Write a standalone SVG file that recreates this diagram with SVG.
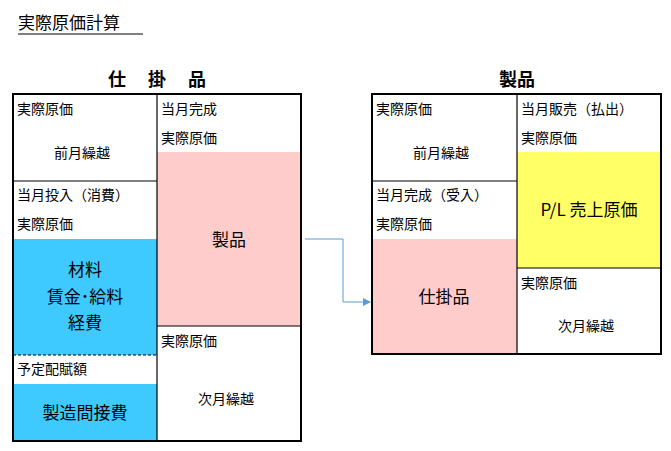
<svg xmlns="http://www.w3.org/2000/svg" width="671" height="451" viewBox="0 0 671 451">
<style>
text{font-family:"Noto Sans CJK JP","Noto Sans",sans-serif;fill:#000}
.s{font-size:14px}
.m{font-size:17px;text-anchor:middle}
.b{fill:none;stroke:#000;stroke-width:2}
.l{stroke:#000;stroke-width:1.2}
</style>
<defs><marker id="a" markerWidth="8" markerHeight="8" refX="7" refY="4" orient="auto" markerUnits="userSpaceOnUse"><path d="M0,0L8,4L0,8z" fill="#5b9bd5"/></marker></defs>
<rect width="671" height="451" fill="#fff"/>
<text x="18" y="29" font-size="17">実際原価計算</text>
<line x1="18" y1="34" x2="143" y2="34" stroke="#000"/>
<g id="shikakari">
<text x="157" y="86" font-size="18" font-weight="bold" text-anchor="middle" letter-spacing="0">仕　 掛 　品</text>
<rect x="13" y="239" width="144" height="116" fill="#3fcaff"/>
<rect x="13" y="384" width="144" height="57" fill="#3fcaff"/>
<rect x="157" y="152" width="144" height="174" fill="#ffcccc"/>
<line class="l" x1="157" y1="94" x2="157" y2="441"/>
<line class="l" x1="13" y1="181" x2="157" y2="181"/>
<line x1="13" y1="355" x2="157" y2="355" stroke="#000" stroke-dasharray="3,2"/>
<line class="l" x1="157" y1="326" x2="301" y2="326"/>
<rect class="b" x="13" y="94" width="288" height="347"/>
<text class="s" x="17" y="114">実際原価</text>
<text class="s" x="54" y="158">前月繰越</text>
<text class="s" x="17" y="200">当月投入（消費）</text>
<text class="s" x="17" y="229">実際原価</text>
<text class="m" x="85" y="276">材料</text>
<text class="m" x="85" y="303">賃金･給料</text>
<text class="m" x="85" y="329">経費</text>
<text class="s" x="17" y="374">予定配賦額</text>
<text class="m" x="85" y="419">製造間接費</text>
<text class="s" x="161" y="114">当月完成</text>
<text class="s" x="161" y="143">実際原価</text>
<text class="m" x="229" y="246">製品</text>
<text class="s" x="161" y="346">実際原価</text>
<text class="s" x="198" y="404">次月繰越</text>
</g>
<g id="connectors">
<path d="M305,239H343V302H370" fill="none" stroke="#5b9bd5" stroke-width="1" marker-end="url(#a)"/>
</g>
<g id="seihin">
<text x="517" y="86" font-size="18" font-weight="bold" text-anchor="middle">製品</text>
<rect x="372" y="239" width="145" height="115" fill="#ffcccc"/>
<rect x="517" y="152" width="144" height="116" fill="#ffff66"/>
<line class="l" x1="517" y1="94" x2="517" y2="354"/>
<line class="l" x1="372" y1="181" x2="517" y2="181"/>
<line class="l" x1="517" y1="268" x2="661" y2="268"/>
<rect class="b" x="372" y="94" width="289" height="260"/>
<text class="s" x="376" y="114">実際原価</text>
<text class="s" x="413" y="158">前月繰越</text>
<text class="s" x="376" y="200">当月完成（受入）</text>
<text class="s" x="376" y="229">実際原価</text>
<text class="m" x="444" y="303">仕掛品</text>
<text class="s" x="521" y="114">当月販売（払出）</text>
<text class="s" x="521" y="143">実際原価</text>
<text class="m" x="589" y="216">P/L 売上原価</text>
<text class="s" x="521" y="288">実際原価</text>
<text class="s" x="558" y="331">次月繰越</text>
</g>
</svg>
